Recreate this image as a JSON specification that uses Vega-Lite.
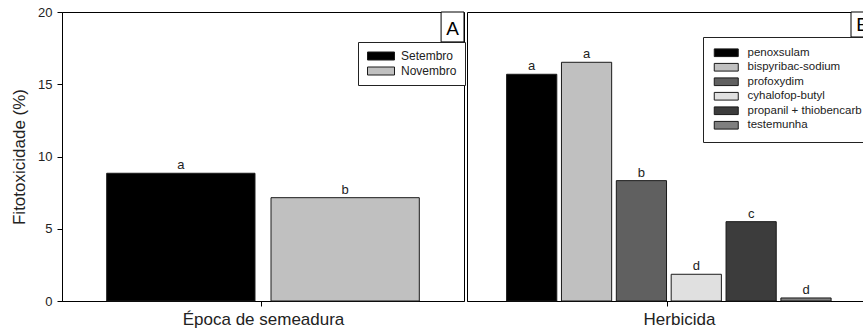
{
  "$schema": "https://vega.github.io/schema/vega-lite/v6.json",
  "padding": {"left": 10, "top": 5, "right": 0, "bottom": 0},
  "autosize": {"type": "pad"},
  "background": "white",
  "config": {
    "font": "Liberation Sans",
    "view": {"stroke": "#000", "strokeWidth": 1},
    "axis": {"grid": false, "domainColor": "#000", "tickColor": "#000", "labelColor": "#222", "titleColor": "#222", "titleFontWeight": "normal", "labelFont": "Liberation Sans", "titleFont": "Liberation Sans"},
    "legend": {"labelFont": "Liberation Sans", "labelColor": "#222"}
  },
  "spacing": 0,
  "resolve": {"scale": {"color": "independent", "x": "independent"}, "legend": {"color": "independent"}},
  "hconcat": [
    {
      "width": 402,
      "height": 289,
      "data": {"values": [
        {"epoca": "Setembro", "fito": 8.84, "letra": "a"},
        {"epoca": "Novembro", "fito": 7.15, "letra": "b"}
      ]},
      "layer": [
        {
          "layer": [
            {
              "mark": {"type": "bar", "stroke": "#1a1a1a", "strokeWidth": 1},
              "encoding": {
                "x": {"field": "epoca", "type": "nominal", "sort": ["Setembro", "Novembro"],
                  "scale": {"paddingInner": 0.0974, "paddingOuter": 0.272},
                  "axis": {"title": "Época de semeadura", "labels": false, "values": ["Novembro"], "bandPosition": -0.061, "tickSize": 5, "titleFontSize": 17, "titlePadding": 5}},
                "y": {"field": "fito", "type": "quantitative", "scale": {"domain": [0, 20], "nice": false},
                  "axis": {"title": "Fitotoxicidade (%)", "values": [0, 5, 10, 15, 20], "tickSize": 5, "labelFontSize": 13, "labelPadding": 5, "titleFontSize": 17, "titlePadding": 9}},
                "color": {"field": "epoca", "type": "nominal",
                  "scale": {"domain": ["Setembro", "Novembro"], "range": ["#000000", "#c0c0c0"]},
                  "legend": {"orient": "none", "legendX": 296, "legendY": 30, "title": null,
                    "symbolType": "M-3.375,-1H3.375V1H-3.375Z", "symbolSize": 64, "symbolOffset": 9, "symbolStrokeColor": "#1a1a1a", "symbolStrokeWidth": 1,
                    "labelFontSize": 12, "labelOffset": 14, "padding": 8, "rowPadding": 3,
                    "strokeColor": "#222", "fillColor": "white"}}
              }
            },
            {
              "mark": {"type": "text", "baseline": "alphabetic", "dy": -4, "fontSize": 13, "color": "#222"},
              "encoding": {
                "x": {"field": "epoca", "type": "nominal", "sort": ["Setembro", "Novembro"]},
                "y": {"field": "fito", "type": "quantitative"},
                "text": {"field": "letra"}
              }
            }
          ]
        },
        {
          "data": {"values": [{"painel": "A"}]},
          "layer": [
            {
              "mark": {"type": "rect", "fill": "white", "stroke": "#000", "strokeWidth": 1},
              "encoding": {
                "x": {"datum": 0.943, "type": "quantitative", "scale": {"domain": [0, 1], "nice": false}, "axis": null},
                "x2": {"datum": 1},
                "y": {"datum": 20, "type": "quantitative"},
                "y2": {"datum": 17.93}
              }
            },
            {
              "mark": {"type": "text", "fontSize": 19, "baseline": "middle", "align": "center", "color": "#000"},
              "encoding": {
                "x": {"datum": 0.9715, "type": "quantitative", "axis": null},
                "y": {"datum": 18.85, "type": "quantitative"},
                "text": {"field": "painel"}
              }
            }
          ]
        }
      ],
      "resolve": {"scale": {"x": "independent"}, "axis": {"x": "independent"}}
    },
    {
      "width": 407,
      "height": 289,
      "data": {"values": [
        {"herbicida": "penoxsulam", "fito": 15.69, "letra": "a"},
        {"herbicida": "bispyribac-sodium", "fito": 16.52, "letra": "a"},
        {"herbicida": "profoxydim", "fito": 8.33, "letra": "b"},
        {"herbicida": "cyhalofop-butyl", "fito": 1.85, "letra": "d"},
        {"herbicida": "propanil + thiobencarb", "fito": 5.49, "letra": "c"},
        {"herbicida": "testemunha", "fito": 0.21, "letra": "d"}
      ]},
      "layer": [
        {
          "layer": [
            {
              "mark": {"type": "bar", "stroke": "#1a1a1a", "strokeWidth": 1},
              "encoding": {
                "x": {"field": "herbicida", "type": "nominal",
                  "sort": ["penoxsulam", "bispyribac-sodium", "profoxydim", "cyhalofop-butyl", "propanil + thiobencarb", "testemunha"],
                  "scale": {"paddingInner": 0.085, "paddingOuter": 0.752, "align": 0.48},
                  "axis": {"title": "Herbicida", "labels": false, "values": ["cyhalofop-butyl"], "bandPosition": -0.075, "tickSize": 5, "titleFontSize": 17, "titlePadding": 5, "titleX": 212}},
                "y": {"field": "fito", "type": "quantitative", "scale": {"domain": [0, 20], "nice": false}, "axis": null},
                "color": {"field": "herbicida", "type": "nominal",
                  "scale": {"domain": ["penoxsulam", "bispyribac-sodium", "profoxydim", "cyhalofop-butyl", "propanil + thiobencarb", "testemunha"],
                    "range": ["#000000", "#c0c0c0", "#606060", "#e0e0e0", "#3c3c3c", "#7f7f7f"]},
                  "legend": {"orient": "none", "legendX": 236, "legendY": 25, "title": null,
                    "symbolType": "M-3,-0.96H3V0.96H-3Z", "symbolSize": 64, "symbolOffset": 7.5, "symbolStrokeColor": "#1a1a1a", "symbolStrokeWidth": 1,
                    "labelFontSize": 11.5, "labelOffset": 15.5, "padding": 10, "rowPadding": 1.5,
                    "strokeColor": "#222", "fillColor": "white"}}
              }
            },
            {
              "mark": {"type": "text", "baseline": "alphabetic", "dy": -4, "fontSize": 13, "color": "#222"},
              "encoding": {
                "x": {"field": "herbicida", "type": "nominal", "sort": ["penoxsulam", "bispyribac-sodium", "profoxydim", "cyhalofop-butyl", "propanil + thiobencarb", "testemunha"]},
                "y": {"field": "fito", "type": "quantitative"},
                "text": {"field": "letra"}
              }
            }
          ]
        },
        {
          "data": {"values": [{"painel": "B"}]},
          "layer": [
            {
              "mark": {"type": "rect", "fill": "white", "stroke": "#000", "strokeWidth": 1},
              "encoding": {
                "x": {"datum": 0.9435, "type": "quantitative", "scale": {"domain": [0, 1], "nice": false}, "axis": null},
                "x2": {"datum": 1},
                "y": {"datum": 20, "type": "quantitative"},
                "y2": {"datum": 18.27}
              }
            },
            {
              "mark": {"type": "text", "fontSize": 19, "baseline": "middle", "align": "center", "color": "#000"},
              "encoding": {
                "x": {"datum": 0.9717, "type": "quantitative", "axis": null},
                "y": {"datum": 19.1, "type": "quantitative"},
                "text": {"field": "painel"}
              }
            }
          ]
        }
      ],
      "resolve": {"scale": {"x": "independent"}, "axis": {"x": "independent"}}
    }
  ]
}
